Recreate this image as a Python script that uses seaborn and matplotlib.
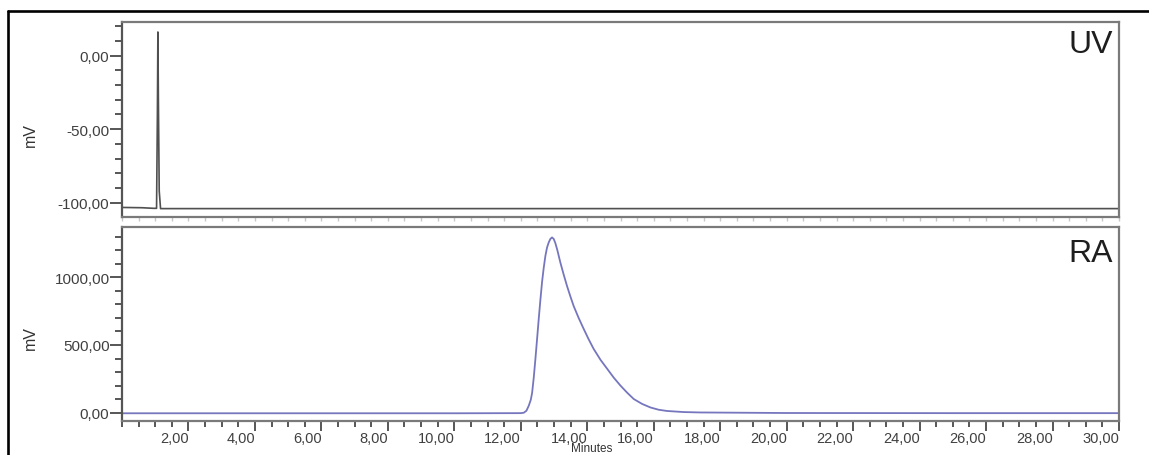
import numpy as np
import pandas as pd
import matplotlib
matplotlib.use("Agg")
import matplotlib.pyplot as plt
import seaborn as sns
from matplotlib.ticker import MultipleLocator, FuncFormatter
from matplotlib.lines import Line2D

# ---------------- data ----------------
uv_time = [0.0, 0.60, 0.95, 1.04, 1.065, 1.08, 1.095, 1.12, 1.16, 2.0, 10.0, 20.0, 30.0]
uv_mv = [-103.2, -103.4, -103.8, -103.8, -40.0, 16.0, -30.0, -92.0, -104.0, -104.0, -104.0, -104.0, -104.0]

ra_time = [0.0, 5.0, 10.0, 12.0, 12.09, 12.17, 12.24, 12.30, 12.34, 12.39, 12.44, 12.49,
           12.54, 12.59, 12.64, 12.69, 12.74, 12.79, 12.84, 12.89, 12.94, 12.99, 13.04,
           13.10, 13.19, 13.29, 13.39, 13.49, 13.59, 13.74, 13.89, 14.04, 14.19, 14.40,
           14.60, 14.80, 15.00, 15.20, 15.40, 15.65, 15.90, 16.15, 16.40, 16.90, 17.40,
           20.0, 25.0, 30.0]
ra_mv = [-4, -4, -4, -3, 0, 15, 52, 95, 146, 260, 398, 545,
         694, 835, 966, 1070, 1158, 1220, 1257, 1283, 1294, 1283, 1252,
         1200, 1109, 1020, 936, 860, 788, 700, 620, 543, 472, 390,
         324, 258, 200, 148, 101, 65, 39, 22, 13, 5, 2,
         -2, -3, -3]

panel_labels = ["UV", "RA"]
x_tick_values = [2, 4, 6, 8, 10, 12, 14, 16, 18, 20, 22, 24, 26, 28, 30]
y_label = "mV"
x_label = "Minutes"

uv_df = pd.DataFrame({"time": uv_time, "mV": uv_mv})
ra_df = pd.DataFrame({"time": ra_time, "mV": ra_mv})

# ---------------- style ----------------
sns.set_theme(style="white")
plt.rcParams["font.family"] = ["Liberation Sans", "DejaVu Sans"]

W, H = 1149, 456
fig = plt.figure(figsize=(W / 100, H / 100), dpi=100)
fig.patch.set_facecolor("white")

def fx(px):
    return px / W

def fy(py):
    return 1 - py / H

ax_top = fig.add_axes([fx(122), fy(218), fx(1119) - fx(122), fy(23) - fy(218)])
ax_bot = fig.add_axes([fx(122), fy(422), fx(1119) - fx(122), fy(228) - fy(422)])

sns.lineplot(data=uv_df, x="time", y="mV", ax=ax_top, color="#505050", lw=1.2)
sns.lineplot(data=ra_df, x="time", y="mV", ax=ax_bot, color="#7676be", lw=1.3)

ax_top.set_xlim(0, 30)
ax_bot.set_xlim(0, 30)
ax_top.set_ylim(-109.7, 22.8)
ax_bot.set_ylim(-61, 1371)

comma = FuncFormatter(lambda v, p: f"{v:.2f}".replace(".", ",").replace("-0,00", "0,00"))

tick_col = "#3a3a3a"
for ax, major, minor in [(ax_top, 50, 10), (ax_bot, 500, 100)]:
    ax.set_facecolor("white")
    ax.yaxis.set_major_locator(MultipleLocator(major))
    ax.yaxis.set_minor_locator(MultipleLocator(minor))
    ax.yaxis.set_major_formatter(comma)
    ax.set_xticks(x_tick_values)
    ax.xaxis.set_minor_locator(MultipleLocator(0.5))
    ax.tick_params(axis="y", which="major", direction="out", length=9, width=1.2,
                   color=tick_col, labelsize=11, labelcolor="#404040", pad=0, left=True)
    ax.tick_params(axis="y", which="minor", direction="out", length=5, width=1.2,
                   color=tick_col, left=True)
    for s in ax.spines.values():
        s.set_color("#7a7a7a")
        s.set_linewidth(1.6)
    ax.spines["left"].set_color("#555555")
    ax.set_ylabel(y_label, fontsize=11.5, color="#333333")
    ax.set_xlabel("")

ax_top.yaxis.set_label_coords(-0.084, 0.426)
ax_bot.yaxis.set_label_coords(-0.084, 0.433)

# top panel: faint unlabeled x ticks
ax_top.tick_params(axis="x", which="both", direction="out", length=3, width=1,
                   color="#c8c8c8", labelbottom=False, bottom=True)

# bottom panel x ticks
ax_bot.xaxis.set_major_formatter(comma)
ax_bot.tick_params(axis="x", which="major", direction="out", length=7, width=1.2,
                   color=tick_col, labelsize=10.5, labelcolor="#404040", pad=0.5, bottom=True)
ax_bot.tick_params(axis="x", which="minor", direction="out", length=4, width=1.2,
                   color=tick_col, bottom=True)
for lab in ax_bot.get_xticklabels():
    lab.set_horizontalalignment("right")

ax_bot.set_xlabel(x_label, fontsize=8.5, color="#333333")
ax_bot.xaxis.set_label_coords(0.471, -0.172)
ax_bot.xaxis.label.set_verticalalignment("bottom")

# panel names
ax_top.text(0.994, 0.965, panel_labels[0], transform=ax_top.transAxes, ha="right", va="top",
            fontsize=23, color="#1e1e1e")
ax_bot.text(0.994, 0.945, panel_labels[1], transform=ax_bot.transAxes, ha="right", va="top",
            fontsize=23, color="#1e1e1e")

# outer black frame (extends beyond the image on right and bottom)
fig.add_artist(Line2D([fx(8), 1.0], [fy(12), fy(12)], transform=fig.transFigure,
                      color="black", lw=1.9))
fig.add_artist(Line2D([fx(8), fx(8)], [fy(12), 0.0], transform=fig.transFigure,
                      color="black", lw=1.9))

fig.savefig("out.png", dpi=100)
